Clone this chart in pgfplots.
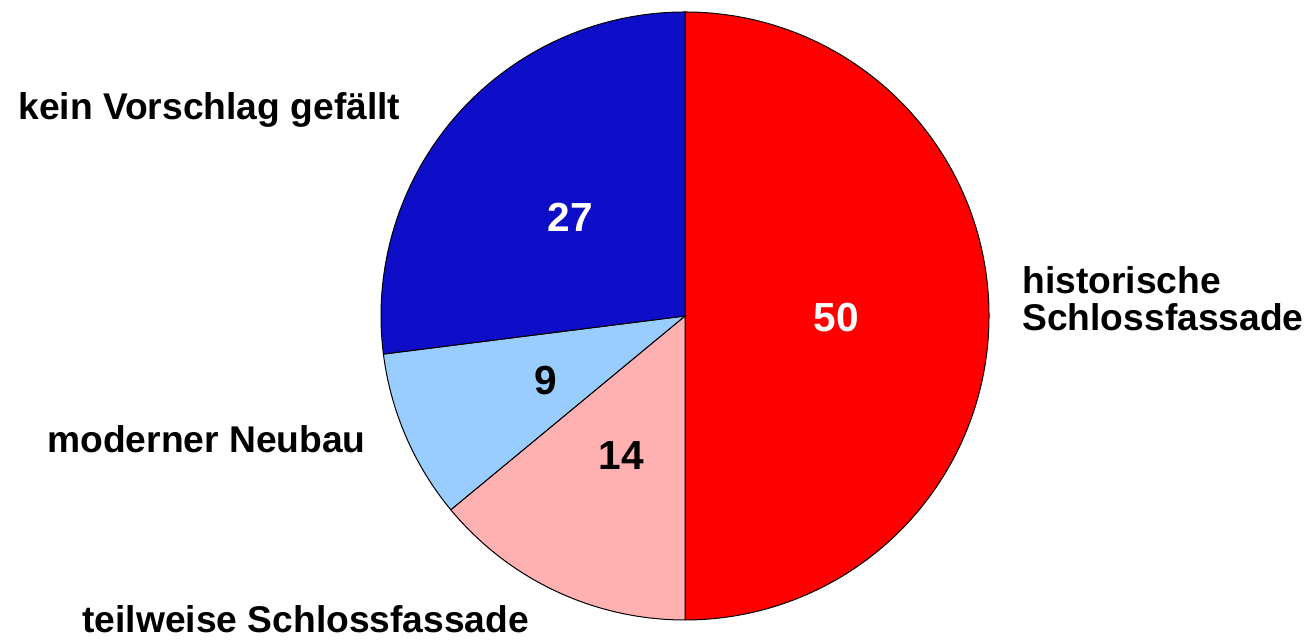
\documentclass[border=0pt]{standalone}
\usepackage{pgfplots}
\pgfplotsset{compat=1.18}
\usepackage{fontspec}
\setmainfont{Liberation Sans}
\definecolor{pieRed}{RGB}{255,0,0}
\definecolor{piePink}{RGB}{255,176,176}
\definecolor{pieLight}{RGB}{153,204,255}
\definecolor{pieBlue}{RGB}{14,14,200}

% shares in percent
\def\vHist{50}
\def\vTeil{14}
\def\vMod{9}
\def\vKein{27}

\begin{document}
\begin{tikzpicture}
\begin{axis}[
    x=0.5pt, y=0.5pt,
    xmin=0, xmax=1309, ymin=0, ymax=640,
    scale only axis, hide axis, clip=false,
]
\path (axis cs:0,0) rectangle (axis cs:1309,640);
% angles, clockwise from the top
\pgfmathsetmacro\aA{90}
\pgfmathsetmacro\aB{\aA-\vHist*3.6}
\pgfmathsetmacro\aC{\aB-\vTeil*3.6}
\pgfmathsetmacro\aD{\aC-\vMod*3.6}
\pgfmathsetmacro\aE{\aD-\vKein*3.6}
\coordinate (c) at (axis cs:685,324);
\filldraw[fill=pieRed, draw=black, line width=0.5pt]
    (c) -- ++(\aA:152pt) arc[start angle=\aA, end angle=\aB, radius=152pt] -- cycle;
\filldraw[fill=piePink, draw=black, line width=0.5pt]
    (c) -- ++(\aB:152pt) arc[start angle=\aB, end angle=\aC, radius=152pt] -- cycle;
\filldraw[fill=pieLight, draw=black, line width=0.5pt]
    (c) -- ++(\aC:152pt) arc[start angle=\aC, end angle=\aD, radius=152pt] -- cycle;
\filldraw[fill=pieBlue, draw=black, line width=0.5pt]
    (c) -- ++(\aD:152pt) arc[start angle=\aD, end angle=\aE, radius=152pt] -- cycle;

% values
\begin{scope}[every node/.style={inner sep=0pt, font=\fontsize{20.3}{22}\selectfont\bfseries}]
\node[text=white] at (axis cs:836,322) {\vHist};
\node[text=black] at (axis cs:621,184) {\vTeil};
\node[text=black] at (axis cs:546,259) {\vMod};
\node[text=white] at (axis cs:570,423) {\vKein};
\end{scope}

% category labels
\begin{scope}[every node/.style={inner sep=0pt, anchor=base west, font=\fontsize{18.6}{20}\selectfont\bfseries}]
\node at (axis cs:1022,346) {historische};
\node at (axis cs:1022,309) {Schlossfassade};
\node at (axis cs:18,520) {kein Vorschlag gefällt};
\node at (axis cs:47,187) {moderner Neubau};
\node at (axis cs:82,7) {teilweise Schlossfassade};
\end{scope}
\end{axis}
\end{tikzpicture}
\end{document}
